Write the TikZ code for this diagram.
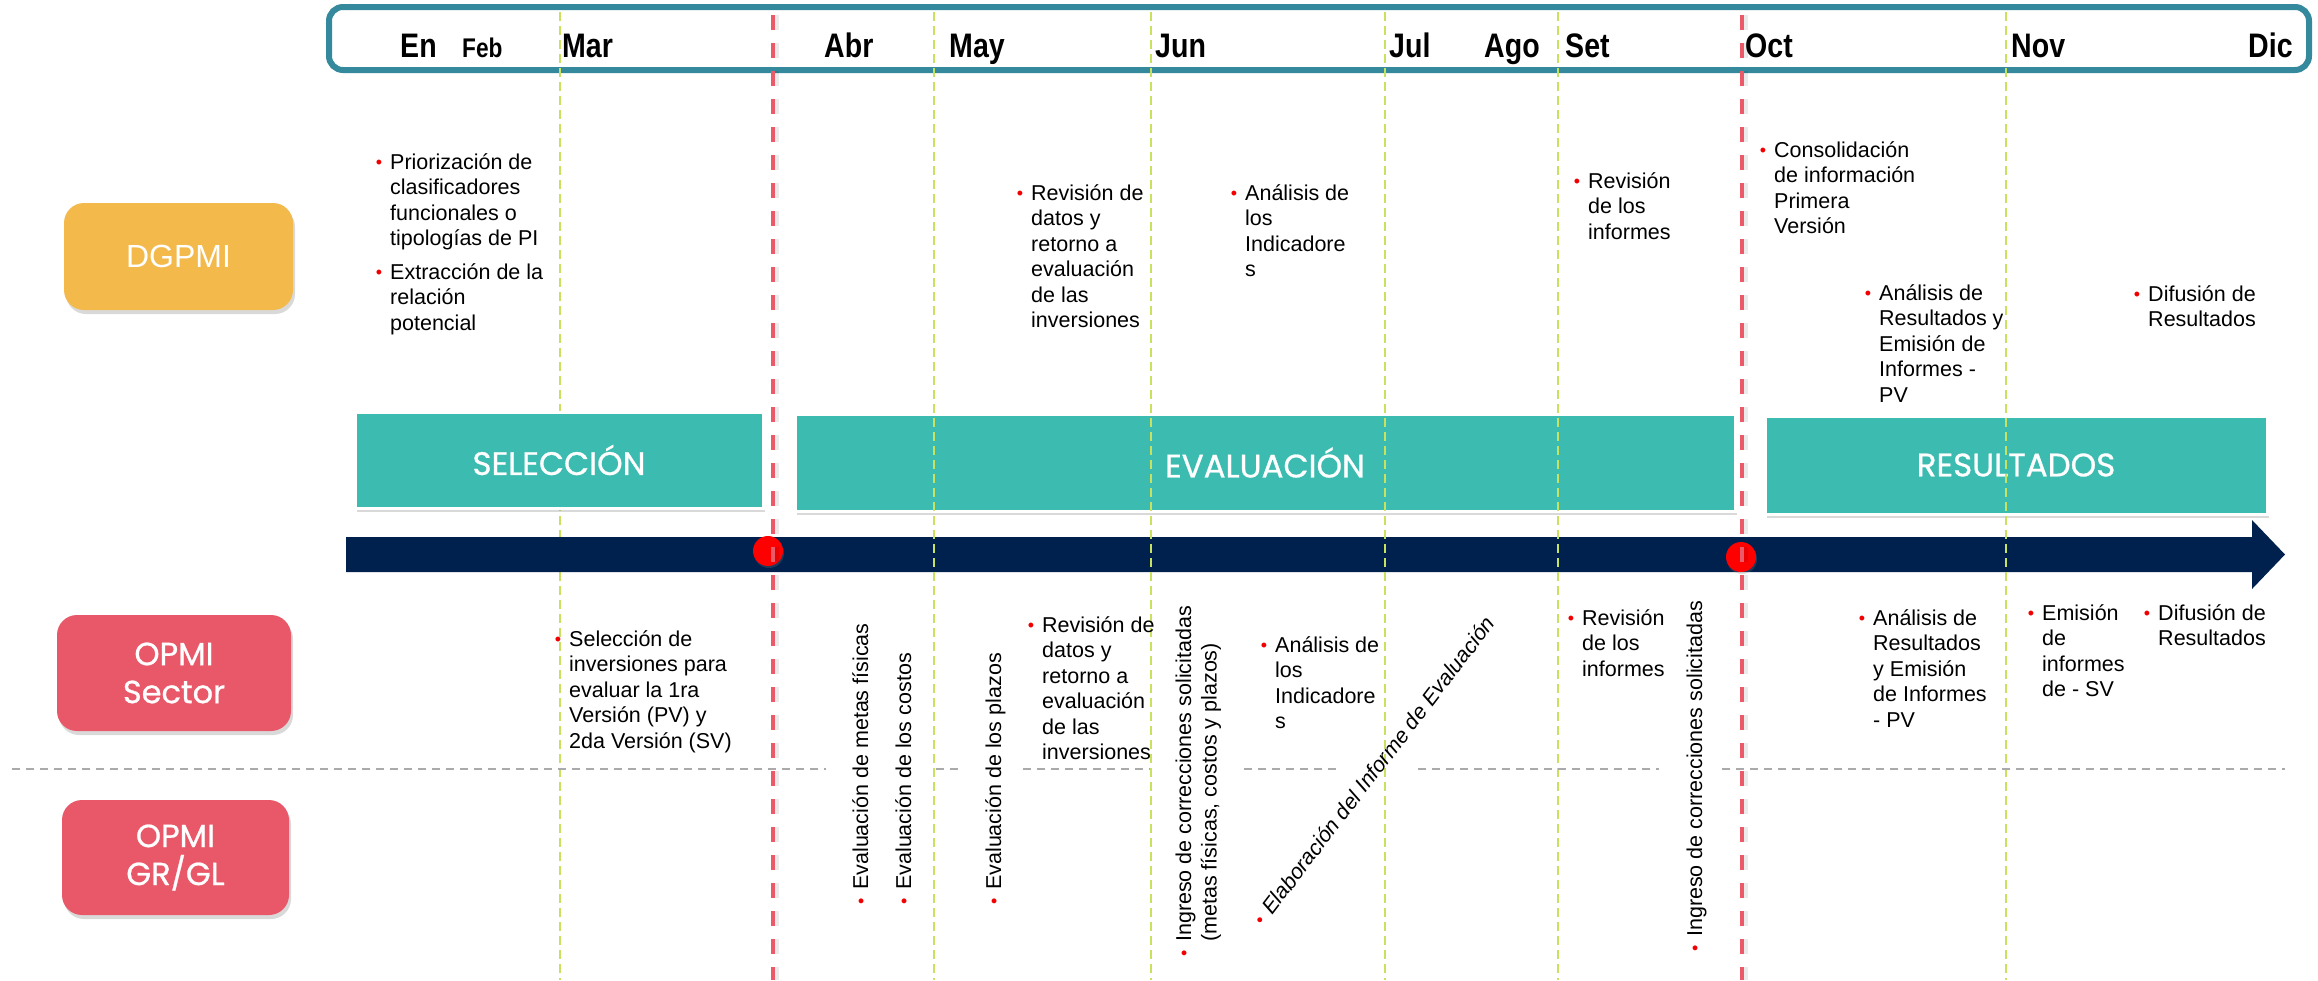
\documentclass[tikz,border=0pt]{standalone}
\usepackage{fontspec}
\setmainfont{Liberation Sans}
\newfontfamily\monthfont{Liberation Sans}[FakeStretch=0.84]
\newfontfamily\roundfont{Poppins}[FakeBold=0.8]
\usetikzlibrary{shadows}

\definecolor{hdrteal}{RGB}{52,137,157}
\definecolor{phaseteal}{RGB}{60,188,177}
\definecolor{dgpmiorange}{RGB}{244,185,75}
\definecolor{opmired}{RGB}{233,88,104}
\definecolor{cutred}{RGB}{234,90,105}
\definecolor{bulred}{RGB}{240,0,0}
\definecolor{monthgreen}{RGB}{200,225,95}
\definecolor{sepgray}{RGB}{170,170,170}
\definecolor{navy}{RGB}{0,33,77}

\newcommand{\bul}{\rule{0pt}{20pt}\llap{\textcolor{bulred}{\raisebox{1pt}{\fontsize{18}{18}\selectfont\textbullet}}\hspace{8pt}}}

\begin{document}
\begin{tikzpicture}[x=1pt,y=-1pt,
  month/.style={anchor=base west,inner sep=0pt,font=\monthfont\bfseries\fontsize{34}{34}\selectfont},
  role/.style={rounded corners=20pt,text=white,align=center,
    drop shadow={shadow xshift=2pt,shadow yshift=-4pt,opacity=.3}},
  phase/.style={fill=phaseteal,draw=white,line width=3pt,text=white,
    font=\roundfont\fontsize{32.5}{32.5}\selectfont,
    drop shadow={shadow xshift=2pt,shadow yshift=-4pt,opacity=.3}},
  item/.style={anchor=north west,inner sep=0pt,align=left,font=\fontsize{21.5}{25.5}\selectfont},
  vitem/.style={anchor=base west,inner sep=0pt,rotate=90,font=\fontsize{21.5}{25.5}\selectfont},
  greenline/.style={monthgreen,line width=2pt,dash pattern=on 9pt off 5pt},
  redline/.style={cutred,line width=4pt,dash pattern=on 15pt off 13pt},
  sepline/.style={sepgray,line width=2.5pt,dash pattern=on 8pt off 6pt},
  milestone/.style={circle,fill=red,minimum size=30pt,inner sep=0pt,
    drop shadow={shadow xshift=1pt,shadow yshift=-2pt,opacity=.25}}]
   \useasboundingbox (0,0) rectangle (2318,980);

   \node[draw=hdrteal,fill=white,line width=6pt,rounded corners=14pt,
         minimum width=1980pt,minimum height=63pt] (header) at (1319,38.5) {};

   \draw[greenline] (560,12) -- (560,980);

   \node[phase,minimum width=408pt,minimum height=96pt] (sel)  at (559,460)    {SELECCIÓN};
   \node[phase,minimum width=940pt,minimum height=97pt] (eval) at (1265,462.5) {EVALUACIÓN};
   \node[phase,minimum width=502pt,minimum height=98pt] (res)  at (2016,465)   {RESULTADOS};
   \fill[navy] (346,537) -- (2252,537) -- (2252,520) -- (2285,554.5)
               -- (2252,589) -- (2252,572) -- (346,572) -- cycle;

   \draw[greenline] (934,12)  -- (934,980);
   \draw[greenline] (1151,12) -- (1151,980);
   \draw[greenline] (1385,12) -- (1385,980);
   \draw[greenline] (1558,12) -- (1558,980);
   \draw[greenline] (2006,12) -- (2006,980);

   \draw[sepline] (12,769) -- (826,769);
   \draw[sepline] (936,769) -- (959,769);
   \draw[sepline] (1023,769) -- (1150,769);
   \draw[sepline] (1244,769) -- (1337,769);
   \draw[sepline] (1418,769) -- (1659,769);
   \draw[sepline] (1722,769) -- (2285,769);

   \node[role,fill=dgpmiorange,minimum width=229pt,minimum height=107pt,
         font=\fontsize{32}{38}\selectfont]          (dgpmi)  at (178.5,256.5) {DGPMI};
   \node[role,fill=opmired,minimum width=234pt,minimum height=116pt,
         font=\roundfont\fontsize{32}{38}\selectfont] (sector) at (174,673)     {OPMI\\Sector};
   \node[role,fill=opmired,minimum width=227pt,minimum height=115pt,
         font=\roundfont\fontsize{32}{38}\selectfont] (grgl)   at (175.5,857.5) {OPMI\\GR/GL};

   \node[month]                                        (en)  at (400,57)  {En};
   \node[month,font=\monthfont\bfseries\fontsize{27}{27}\selectfont] (feb) at (462,57) {Feb};
   \node[month]                                        (mar) at (562,57)  {Mar};
   \node[month]                                        (abr) at (824,57)  {Abr};
   \node[month]                                        (may) at (949,57)  {May};
   \node[month]                                        (jun) at (1155,57) {Jun};
   \node[month]                                        (jul) at (1389,57) {Jul};
   \node[month]                                        (ago) at (1484,57) {Ago};
   \node[month]                                        (set) at (1565,57) {Set};
   \node[month]                                        (oct) at (1745,57) {Oct};
   \node[month]                                        (nov) at (2011,57) {Nov};
   \node[month]                                        (dic) at (2248,57) {Dic};

   \node[milestone] (hito1) at (768,551)  {};
   \node[milestone] (hito2) at (1741,557) {};

   \draw[redline,draw=black,opacity=.08,line width=7pt,xshift=2pt] (773,15) -- (773,980);
   \draw[redline,draw=black,opacity=.08,line width=7pt,xshift=2pt] (1742,15) -- (1742,980);
   \draw[redline] (773,15)  -- (773,980);
   \draw[redline] (1742,15) -- (1742,980);

   \node[item] (prio)   at (390,149)  {\bul Priorización de\\clasificadores\\funcionales o\\tipologías de PI\\[8pt]\bul Extracción de la\\relación\\potencial};
   \node[item] (revd)   at (1031,180) {\bul Revisión de\\datos y\\retorno a\\evaluación\\de las\\inversiones};
   \node[item] (anai)   at (1245,180) {\bul Análisis de\\los\\Indicadore\\s};
   \node[item] (revi)   at (1588,168) {\bul Revisión\\de los\\informes};
   \node[item] (cons)   at (1774,137) {\bul Consolidación\\de información\\Primera\\Versión};
   \node[item] (anar)   at (1879,280) {\bul Análisis de\\Resultados y\\Emisión de\\Informes -\\PV};
   \node[item] (difu)   at (2148,281) {\bul Difusión de\\Resultados};

   \node[item] (selinv) at (569,626)  {\bul Selección de\\inversiones para\\evaluar la 1ra\\Versión (PV) y\\2da Versión (SV)};
   \node[vitem] (metas) at (868,890)  {\bul Evaluación de metas físicas};
   \node[vitem] (costos) at (911,890) {\bul Evaluación de los costos};
   \node[vitem] (plazos) at (1001,890) {\bul Evaluación de los plazos};
   \node[item] (revd2)  at (1042,612) {\bul Revisión de\\datos y\\retorno a\\evaluación\\de las\\inversiones};
   \node[item,rotate=90] (ingpv) at (1171,942) {\bul Ingreso de correcciones solicitadas\\(metas físicas, costos y plazos)};
   \node[item] (anai2)  at (1275,632) {\bul Análisis de\\los\\Indicadore\\s};
   \node[vitem,rotate=-37.5,font=\itshape\fontsize{21.5}{25.5}\selectfont] (elab) at (1272,916) {\bul Elaboración del Informe de Evaluación};
   \node[item] (revi2)  at (1582,605) {\bul Revisión\\de los\\informes};
   \node[vitem] (ingsv) at (1702,937) {\bul Ingreso de correcciones solicitadas};
   \node[item] (anar2)  at (1873,605) {\bul Análisis de\\Resultados\\y Emisión\\de Informes\\- PV};
   \node[item] (emis)   at (2042,600) {\bul Emisión\\de\\informes\\de - SV};
   \node[item] (difu2)  at (2158,600) {\bul Difusión de\\Resultados};
\end{tikzpicture}
\end{document}
